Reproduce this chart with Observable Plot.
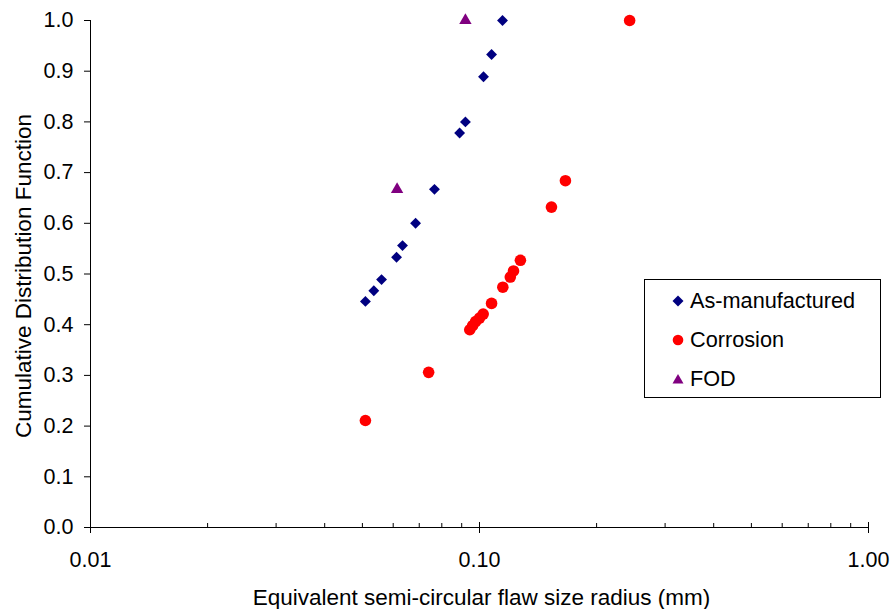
<!DOCTYPE html>
<html>
<head>
<meta charset="utf-8">
<script src="https://cdn.jsdelivr.net/npm/d3@7"></script>
<script src="https://cdn.jsdelivr.net/npm/@observablehq/plot@0.6"></script>
<style>
  body { margin: 0; background: white; font-family: "Liberation Sans", Arial, sans-serif; }
  #wrap { position: relative; width: 894px; height: 609px; }
  #legend { position: absolute; left: 644px; top: 279px; width: 237px; height: 119px; box-sizing: border-box;
            border: 1px solid #000; background: #fff; font-size: 21.7px; color: #000; }
  .row { position: absolute; left: 0; height: 24px; display: flex; align-items: center; }
  .row svg { position: absolute; left: 27px; top: 6px; }
  .row span { position: absolute; left: 45px; white-space: nowrap; line-height: 24px; top: 0; }
</style>
</head>
<body>
<div id="wrap"></div>
<script>
// ---- data ----
const seriesNames = ["As-manufactured", "Corrosion", "FOD"];
const seriesColors = ["#000080", "#FF0000", "#800080"];

const asMfgX = [0.0509, 0.0535, 0.0560, 0.0612, 0.0634, 0.0685, 0.0766, 0.0889, 0.0920, 0.1024, 0.1074, 0.1146];
const asMfgY = [0.446, 0.467, 0.489, 0.533, 0.556, 0.600, 0.667, 0.778, 0.800, 0.889, 0.933, 1.000];

const corrX = [0.0509, 0.0740, 0.0944, 0.0960, 0.0977, 0.1000, 0.1022, 0.1074, 0.1148, 0.1200, 0.1223, 0.1274, 0.1531, 0.1663, 0.2432];
const corrY = [0.211, 0.306, 0.390, 0.398, 0.406, 0.413, 0.421, 0.442, 0.474, 0.494, 0.506, 0.527, 0.632, 0.684, 1.000];

const fodX = [0.0614, 0.0920];
const fodY = [0.667, 1.000];

const xMajorTicks = [0.01, 0.1, 1];
const xMinorTicks = [0.02, 0.03, 0.04, 0.05, 0.06, 0.07, 0.08, 0.09, 0.2, 0.3, 0.4, 0.5, 0.6, 0.7, 0.8, 0.9];
const yTicks = [0, 0.1, 0.2, 0.3, 0.4, 0.5, 0.6, 0.7, 0.8, 0.9, 1.0];

const xLabel = "Equivalent semi-circular flaw size radius (mm)";
const yLabel = "Cumulative Distribution Function";

const toRows = (xs, ys) => xs.map((x, i) => ({x, y: ys[i]}));
const asMfg = toRows(asMfgX, asMfgY);
const corrosion = toRows(corrX, corrY);
const fod = toRows(fodX, fodY);

const FS = 21.5;
const FT = 22.5;

const chart = Plot.plot({
  width: 894,
  height: 609,
  marginLeft: 90,
  marginRight: 26,
  marginTop: 20,
  marginBottom: 82,
  style: {fontFamily: "'Liberation Sans', Arial, sans-serif", fontSize: FS + "px", color: "#000", background: "#fff", overflow: "visible"},
  x: {type: "log", domain: [0.01, 1]},
  y: {domain: [0, 1]},
  marks: [
    // axis lines
    Plot.ruleY([0], {stroke: "#000", strokeWidth: 1}),
    Plot.ruleX([0.01], {stroke: "#000", strokeWidth: 1}),
    // y axis
    Plot.axisY({ticks: yTicks, tickSize: 6, tickPadding: 11, tickFormat: d3.format(".1f"), fontSize: FS, label: null, stroke: "#000"}),
    // x minor ticks (inside)
    Plot.axisX({ticks: xMinorTicks, tickSize: 4, dy: -4, tickFormat: () => "", label: null}),
    // x major ticks crossing
    Plot.axisX({ticks: xMajorTicks, tickSize: 11, dy: -5, tickFormat: () => "", label: null}),
    // x tick labels
    Plot.axisX({ticks: xMajorTicks, tickSize: 0, tickPadding: 24, tickFormat: d3.format(".2f"), fontSize: FS, label: null}),
    // axis titles
    Plot.text([xLabel], {text: d => d, frameAnchor: "bottom", dy: 62, dx: 2, lineAnchor: "top", fontSize: FT}),
    Plot.text([yLabel], {text: d => d, frameAnchor: "left", rotate: -90, dx: -67, dy: 2, lineAnchor: "middle", textAnchor: "middle", fontSize: FT}),
    // data
    Plot.dot(asMfg, {x: "x", y: "y", symbol: "diamond2", r: 4.9, fill: seriesColors[0], stroke: "none"}),
    Plot.dot(corrosion, {x: "x", y: "y", symbol: "circle", r: 5.8, fill: seriesColors[1], stroke: "none"}),
    Plot.dot(fod, {x: "x", y: "y", symbol: "triangle", r: 4.6, fill: seriesColors[2], stroke: "none"})
  ]
});

const wrap = document.getElementById("wrap");
wrap.appendChild(chart);

// legend
const legend = document.createElement("div");
legend.id = "legend";
const symbolsSvg = [
  '<svg width="12" height="12" viewBox="-6 -6 12 12"><path d="M0,-5.5L5.5,0L0,5.5L-5.5,0Z" fill="' + seriesColors[0] + '"/></svg>',
  '<svg width="12" height="12" viewBox="-6 -6 12 12"><circle r="5.3" fill="' + seriesColors[1] + '"/></svg>',
  '<svg width="12" height="12" viewBox="-6 -6 12 12"><path d="M0,-5L5.5,4.5L-5.5,4.5Z" fill="' + seriesColors[2] + '"/></svg>'
];
const rowCenters = [21, 60, 99];
seriesNames.forEach((name, i) => {
  const row = document.createElement("div");
  row.className = "row";
  row.style.top = (rowCenters[i] - 12) + "px";
  row.innerHTML = symbolsSvg[i] + "<span>" + name + "</span>";
  legend.appendChild(row);
});
wrap.appendChild(legend);
</script>
</body>
</html>
